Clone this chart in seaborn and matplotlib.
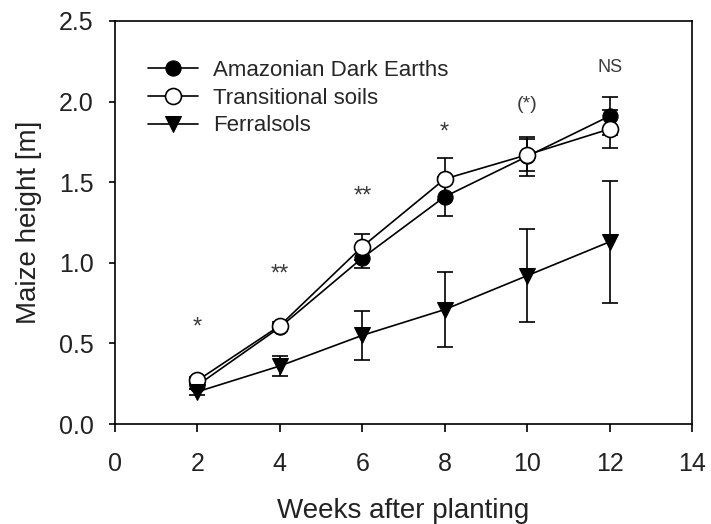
import matplotlib
matplotlib.use("Agg")
import matplotlib.pyplot as plt
import seaborn as sns
import pandas as pd

weeks = [2, 4, 6, 8, 10, 12]
ade_mean = [0.24, 0.60, 1.03, 1.41, 1.66, 1.91]
ade_err = [0.02, 0.02, 0.06, 0.12, 0.12, 0.12]
ts_mean = [0.27, 0.61, 1.10, 1.52, 1.67, 1.83]
ts_err = [0.02, 0.02, 0.08, 0.13, 0.10, 0.12]
fer_mean = [0.20, 0.36, 0.55, 0.71, 0.92, 1.13]
fer_err = [0.02, 0.06, 0.15, 0.23, 0.29, 0.38]
signif = ["*", "**", "**", "*", "(*)", "NS"]
signif_y = [0.60, 0.93, 1.41, 1.81, 1.98, 2.21]
series_names = ["Amazonian Dark Earths", "Transitional soils", "Ferralsols"]

sns.set_theme(style="ticks")
plt.rcParams['font.family'] = ['Liberation Sans', 'DejaVu Sans']

fig = plt.figure(figsize=(7.11, 5.24), dpi=100)
ax = fig.add_axes([115 / 711, 1 - 424 / 524, (692 - 115) / 711, (424 - 21) / 524])

styles = [
    dict(marker="o", mfc="black", mec="black", ms=11),
    dict(marker="o", mfc="white", mec="black", ms=11.5, mew=1.2),
    dict(marker="v", mfc="black", mec="black", ms=11.5),
]
means = [ade_mean, ts_mean, fer_mean]
errs = [ade_err, ts_err, fer_err]
order = [2, 0, 1]
for i in order:
    df = pd.DataFrame({"week": weeks, "height": means[i]})
    ax.errorbar(weeks, means[i], yerr=errs[i], fmt="none", ecolor="black",
                elinewidth=1.2, capsize=5.5, capthick=1.2, zorder=2 + i)
    sns.lineplot(data=df, x="week", y="height", ax=ax, color="black",
                 linewidth=1.2, label=series_names[i], zorder=3 + i, **styles[i])

for w, s, y in zip(weeks, signif, signif_y):
    if s in ("*", "**"):
        fs = 17
    elif s == "(*)":
        fs = 14
    else:
        fs = 13
    ax.text(w, y, s, ha="center", va="center", fontsize=fs, color="#3a3a3a")

ax.set_xlim(0, 14)
ax.set_ylim(0, 2.5)
ax.set_xticks(range(0, 15, 2))
ax.set_yticks([0.0, 0.5, 1.0, 1.5, 2.0, 2.5])
ax.set_yticklabels(["0.0", "0.5", "1.0", "1.5", "2.0", "2.5"])
ax.tick_params(axis="both", direction="out", width=1.2,
               labelsize=18, colors="black", labelcolor="#222222")
ax.tick_params(axis="x", length=6, pad=14)
ax.tick_params(axis="y", length=4.5, pad=11)
for sp in ax.spines.values():
    sp.set_visible(True)
    sp.set_linewidth(1.2)
    sp.set_color("black")
ax.set_xlabel("Weeks after planting", fontsize=20, labelpad=16, color="#222222")
ax.set_ylabel("Maize height [m]", fontsize=20, labelpad=12, color="#222222")

handles, labels = ax.get_legend_handles_labels()
hmap = dict(zip(labels, handles))
ax.legend([hmap[n] for n in series_names], series_names, loc="upper left",
          bbox_to_anchor=(0.057, 0.903), frameon=False, fontsize=16,
          borderpad=0, borderaxespad=0,
          handlelength=2.25, handletextpad=0.7, labelspacing=0.3)

fig.savefig("out.png", dpi=100)
